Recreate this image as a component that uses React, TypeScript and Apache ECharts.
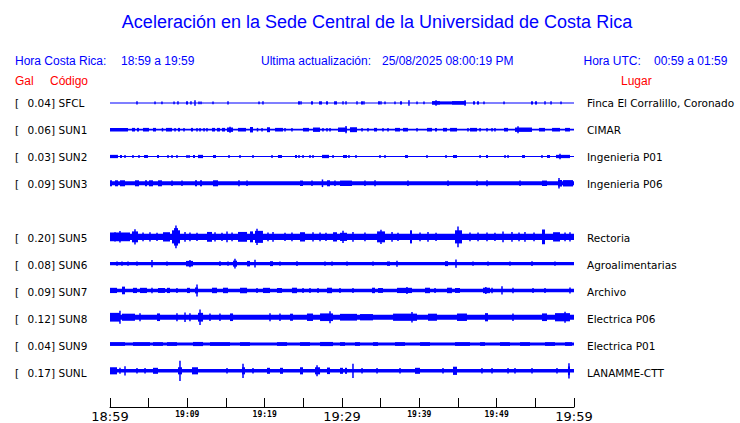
import React, { useEffect, useRef } from "react";
import * as echarts from "echarts";

// ---------- data ----------
const TITLE = "Aceleración en la Sede Central de la Universidad de Costa Rica";
const HORA_CR_LABEL = "Hora Costa Rica:";
const HORA_CR = "18:59 a 19:59";
const UPDATED_LABEL = "Ultima actualización:";
const UPDATED = "25/08/2025 08:00:19 PM";
const HORA_UTC_LABEL = "Hora UTC:";
const HORA_UTC = "00:59 a 01:59";

const STATIONS = ["SFCL", "SUN1", "SUN2", "SUN3", "SUN5", "SUN6", "SUN7", "SUN8", "SUN9", "SUNL"];
const PEAKS_GAL = [0.04, 0.06, 0.03, 0.09, 0.2, 0.08, 0.09, 0.12, 0.04, 0.17];
const PLACES = [
  "Finca El Corralillo, Coronado",
  "CIMAR",
  "Ingenieria P01",
  "Ingenieria P06",
  "Rectoria",
  "Agroalimentarias",
  "Archivo",
  "Electrica P06",
  "Electrica P01",
  "LANAMME-CTT",
];
// trace slot (SUN4 slot left empty)
const SLOTS = [0, 1, 2, 3, 5, 6, 7, 8, 9, 10];

// x axis: minutes after 18:59
const TICK_LABELS = ["18:59", "19:09", "19:19", "19:29", "19:39", "19:49", "19:59"];
const MAJOR_LABELS = ["18:59", "19:29", "19:59"];

// background (noise) half amplitude of each trace, Gal
const BASE_AMP = [0.009, 0.016, 0.009, 0.036, 0.056, 0.031, 0.031, 0.046, 0.027, 0.033];

// bursts: [start minute, end minute, half amplitude Gal]
const SFCL_B = [
  [3.49, 3.49, 0.03], [5.82, 5.82, 0.025], [6.72, 6.72, 0.025], [8.28, 8.28, 0.025], [8.79, 8.79, 0.03],
  [9.83, 10.09, 0.03], [10.47, 10.47, 0.03], [10.99, 10.99, 0.05], [11.51, 11.51, 0.025], [11.77, 11.77, 0.025],
  [13.32, 13.32, 0.025], [15.26, 15.26, 0.03], [19.27, 19.27, 0.025], [19.78, 19.78, 0.03], [24.31, 24.57, 0.03],
  [24.7, 24.7, 0.03], [25.99, 26.25, 0.03], [27.03, 27.41, 0.03], [27.93, 28.19, 0.03], [28.97, 29.35, 0.03],
  [30.13, 30.13, 0.03], [30.52, 30.52, 0.03], [31.94, 31.94, 0.03], [32.46, 32.72, 0.03], [32.84, 32.84, 0.03],
  [34.66, 34.91, 0.03], [35.04, 35.04, 0.03], [35.56, 35.56, 0.025], [36.85, 36.85, 0.025], [37.5, 37.76, 0.03],
  [38.66, 38.66, 0.05], [39.7, 39.7, 0.025], [40.6, 40.6, 0.025], [41.64, 42.67, 0.034], [42.16, 42.16, 0.05],
  [42.67, 44.22, 0.028], [44.22, 46.03, 0.034], [45.91, 45.91, 0.05], [46.94, 47.2, 0.03], [47.46, 47.72, 0.03],
  [48.36, 48.36, 0.025], [50.95, 50.95, 0.025], [54.44, 54.7, 0.03], [54.96, 55.22, 0.03], [56.25, 56.25, 0.03],
  [57.03, 57.03, 0.03], [58.32, 58.32, 0.025],
];
const SUN1_B = [
  [0, 2.33, 0.033], [2.84, 3.23, 0.033], [3.49, 3.75, 0.033], [4.27, 5.04, 0.033], [5.56, 5.95, 0.033],
  [6.72, 6.85, 0.033], [7.24, 8.02, 0.033], [8.41, 8.41, 0.033], [8.79, 9.05, 0.033], [9.57, 9.57, 0.033],
  [10.47, 10.73, 0.033], [11.25, 11.25, 0.033], [11.64, 11.64, 0.033], [12.16, 12.16, 0.033], [12.54, 12.54, 0.033],
  [13.19, 13.58, 0.033], [13.84, 14.22, 0.033], [14.48, 14.87, 0.033], [15.13, 15.91, 0.04], [15.52, 15.52, 0.055],
  [16.55, 17.59, 0.033], [18.1, 18.49, 0.05], [19.01, 19.14, 0.033], [19.66, 19.66, 0.033], [20.3, 20.69, 0.045],
  [21.34, 22.37, 0.033], [22.63, 22.63, 0.033], [23.53, 23.53, 0.033], [24.96, 25.73, 0.033], [26.25, 27.16, 0.04],
  [27.54, 27.54, 0.033], [28.06, 28.06, 0.033], [28.45, 28.45, 0.033], [29.48, 30.65, 0.04], [30.52, 30.52, 0.066],
  [31.03, 31.94, 0.045], [32.59, 32.59, 0.033], [33.36, 33.36, 0.033], [34.14, 34.53, 0.033], [35.3, 35.3, 0.033],
  [35.95, 35.95, 0.033], [36.85, 37.5, 0.033], [37.89, 38.53, 0.033], [39.7, 39.7, 0.033], [40.99, 41.64, 0.033],
  [42.03, 42.28, 0.033], [43.06, 43.58, 0.033], [43.97, 44.87, 0.033], [46.29, 46.29, 0.033], [46.55, 47.46, 0.033],
  [47.85, 47.85, 0.033], [48.75, 48.75, 0.033], [49.4, 49.4, 0.033], [49.78, 49.78, 0.033], [50.95, 51.47, 0.033],
  [52.37, 54.57, 0.04], [52.76, 52.76, 0.065], [55.47, 56.25, 0.033], [57.16, 58.19, 0.033], [58.84, 59.48, 0.033],
];
const SUN2_B = [
  [0, 1.03, 0.03], [1.29, 1.55, 0.027], [1.94, 1.94, 0.027], [2.97, 2.97, 0.027], [3.75, 3.75, 0.027],
  [4.4, 4.91, 0.027], [6.08, 6.34, 0.027], [7.5, 7.5, 0.027], [8.02, 8.02, 0.027], [8.66, 8.66, 0.027],
  [9.96, 9.96, 0.027], [10.22, 10.22, 0.027], [10.73, 10.99, 0.027], [11.38, 12.03, 0.03], [13.32, 13.71, 0.027],
  [15.39, 15.39, 0.027], [16.81, 16.81, 0.027], [18.49, 18.49, 0.027], [20.95, 20.95, 0.027], [21.72, 22.24, 0.027],
  [23.92, 24.18, 0.027], [24.44, 24.44, 0.027], [24.96, 24.96, 0.027], [25.86, 25.86, 0.027], [26.25, 26.25, 0.027],
  [27.41, 28.32, 0.03], [28.84, 28.84, 0.027], [30.13, 30.65, 0.027], [30.9, 30.9, 0.027], [31.81, 31.81, 0.027],
  [34.91, 34.91, 0.027], [35.56, 35.56, 0.027], [38.15, 38.53, 0.027], [40.99, 40.99, 0.027], [43.45, 43.45, 0.027],
  [44.35, 44.87, 0.027], [47.85, 47.85, 0.027], [48.62, 48.88, 0.027], [51.08, 51.08, 0.027], [51.47, 51.47, 0.027],
  [53.28, 53.66, 0.027], [55.86, 55.86, 0.027], [56.51, 56.9, 0.027], [57.67, 59.48, 0.03], [58.19, 58.19, 0.05],
];
const SUN3_B = [
  [0, 0.26, 0.055], [0.65, 1.03, 0.055], [1.29, 1.94, 0.055], [3.23, 3.75, 0.055], [4.53, 4.78, 0.055],
  [5.04, 5.56, 0.055], [6.21, 6.72, 0.055], [8.02, 8.02, 0.05], [9.31, 9.31, 0.05], [10.99, 11.25, 0.055],
  [11.64, 11.9, 0.055], [13.32, 13.97, 0.055], [16.68, 16.68, 0.055], [17.72, 17.72, 0.05], [24.57, 24.96, 0.05],
  [26.12, 26.12, 0.05], [27.41, 27.54, 0.07], [28.06, 28.45, 0.055], [29.09, 29.09, 0.05], [29.74, 31.29, 0.05],
  [32.97, 32.97, 0.05], [34.27, 34.27, 0.055], [38.53, 38.53, 0.05], [43.71, 43.71, 0.05], [47.46, 47.46, 0.05],
  [48.75, 48.75, 0.055], [53.02, 53.02, 0.05], [55.86, 56.51, 0.05], [57.93, 58.45, 0.06], [58.06, 58.06, 0.095],
  [58.58, 59.87, 0.058],
];
const SUN5_B = [
  [0, 2.59, 0.08], [0.65, 0.65, 0.085], [1.29, 1.29, 0.105], [2.84, 3.62, 0.1], [3.23, 3.23, 0.14],
  [4.27, 4.27, 0.08], [5.17, 5.17, 0.085], [6.08, 6.08, 0.075], [6.85, 7.76, 0.085], [8.02, 9.05, 0.12],
  [8.28, 8.79, 0.16], [8.53, 8.53, 0.21], [9.7, 9.7, 0.09], [10.34, 10.34, 0.08], [11.25, 11.25, 0.075],
  [12.54, 13.19, 0.09], [13.58, 13.58, 0.085], [14.48, 14.48, 0.075], [15.13, 15.13, 0.1], [15.78, 15.78, 0.08],
  [16.55, 17.72, 0.09], [18.1, 18.49, 0.1], [18.75, 19.78, 0.11], [19.01, 19.01, 0.15], [20.43, 20.43, 0.08],
  [21.08, 21.08, 0.09], [22.63, 22.63, 0.075], [23.53, 23.53, 0.08], [24.57, 25.22, 0.085], [26.25, 26.25, 0.085],
  [27.16, 27.16, 0.08], [27.93, 27.93, 0.075], [28.84, 29.35, 0.085], [29.74, 30.65, 0.075], [30.13, 30.13, 0.11],
  [31.42, 31.42, 0.09], [32.97, 32.97, 0.08], [34.53, 35.56, 0.1], [35.04, 35.04, 0.13], [36.47, 36.47, 0.09],
  [37.24, 37.24, 0.075], [38.79, 39.05, 0.12], [40.09, 40.09, 0.08], [41.12, 41.12, 0.09], [42.16, 42.16, 0.075],
  [44.61, 45.52, 0.12], [45.0, 45.0, 0.19], [46.55, 46.55, 0.08], [47.59, 47.59, 0.08], [48.75, 48.75, 0.08],
  [49.78, 49.78, 0.075], [50.82, 50.82, 0.1], [51.98, 51.98, 0.09], [52.89, 52.89, 0.08], [53.66, 53.66, 0.09],
  [54.83, 54.83, 0.08], [55.86, 56.25, 0.135], [57.29, 58.19, 0.085], [58.84, 58.84, 0.08], [59.48, 59.48, 0.085],
];
const SUN6_B = [
  [0.91, 0.91, 0.04], [1.55, 1.55, 0.04], [2.33, 2.33, 0.04], [3.49, 3.49, 0.04], [5.43, 5.43, 0.065],
  [7.37, 7.37, 0.04], [9.83, 10.73, 0.05], [10.34, 10.34, 0.065], [14.22, 14.22, 0.045], [15.26, 15.26, 0.04],
  [15.91, 16.42, 0.055], [16.16, 16.16, 0.09], [17.72, 18.1, 0.05], [18.75, 18.75, 0.07], [20.69, 21.08, 0.045],
  [21.98, 21.98, 0.04], [24.18, 24.18, 0.045], [27.8, 27.8, 0.04], [28.71, 28.71, 0.04], [30.65, 30.65, 0.04],
  [34.01, 34.01, 0.04], [35.82, 36.21, 0.04], [37.11, 37.11, 0.055], [43.32, 43.71, 0.045], [44.74, 44.74, 0.075],
  [46.94, 46.94, 0.04], [48.88, 48.88, 0.04], [51.72, 51.72, 0.04], [54.57, 54.57, 0.045], [57.54, 57.54, 0.04],
];
const SUN7_B = [
  [0, 0.91, 0.048], [1.55, 1.94, 0.07], [2.97, 3.49, 0.048], [3.88, 4.78, 0.048], [5.43, 5.43, 0.05],
  [6.21, 7.11, 0.045], [7.37, 7.76, 0.048], [8.66, 8.66, 0.045], [9.96, 10.34, 0.048], [10.99, 11.38, 0.055],
  [11.25, 11.25, 0.11], [13.19, 13.84, 0.05], [14.61, 15.26, 0.05], [16.81, 17.72, 0.05], [19.01, 19.01, 0.045],
  [19.78, 20.69, 0.048], [21.59, 22.24, 0.045], [23.53, 24.18, 0.05], [24.96, 24.96, 0.045], [25.86, 25.86, 0.045],
  [26.9, 26.9, 0.045], [28.06, 28.71, 0.05], [29.74, 29.74, 0.045], [31.42, 31.42, 0.045], [33.88, 34.27, 0.05],
  [34.66, 35.3, 0.045], [37.11, 39.05, 0.048], [38.4, 38.4, 0.065], [40.73, 41.38, 0.05], [42.03, 42.03, 0.045],
  [43.58, 44.22, 0.05], [44.61, 45.26, 0.045], [48.23, 49.14, 0.05], [48.6, 48.6, 0.065], [49.4, 49.4, 0.05],
  [50.69, 50.69, 0.075], [52.11, 52.11, 0.05], [54.7, 54.7, 0.045], [56.25, 56.25, 0.045], [59.48, 59.48, 0.055],
];
const SUN8_B = [
  [0, 1.29, 0.08], [1.29, 1.29, 0.12], [1.55, 3.23, 0.065], [3.88, 3.88, 0.075], [6.08, 6.47, 0.07],
  [8.66, 8.66, 0.075], [9.7, 9.7, 0.085], [10.34, 10.34, 0.075], [11.38, 12.03, 0.08], [11.64, 11.64, 0.14],
  [12.93, 12.93, 0.07], [14.22, 14.22, 0.07], [15.52, 15.91, 0.07], [20.69, 20.69, 0.075], [21.98, 21.98, 0.07],
  [23.28, 23.66, 0.065], [25.47, 26.25, 0.068], [27.16, 28.84, 0.07], [28.45, 28.45, 0.11], [29.74, 31.94, 0.062],
  [32.33, 34.01, 0.058], [36.6, 39.7, 0.066], [39.05, 39.05, 0.095], [41.12, 42.28, 0.065], [44.87, 46.16, 0.068],
  [48.49, 48.88, 0.075], [52.11, 52.11, 0.07], [55.86, 56.51, 0.07], [57.54, 59.48, 0.075], [58.84, 58.84, 0.1],
];
const SUN9_B = [
  [0, 1.94, 0.034], [2.97, 5.17, 0.034], [5.56, 6.85, 0.034], [7.37, 8.66, 0.034], [10.73, 12.03, 0.038],
  [12.93, 15.52, 0.034], [16.81, 18.1, 0.034], [21.59, 22.89, 0.034], [24.57, 25.86, 0.034], [27.16, 28.84, 0.038],
  [29.74, 30.39, 0.034], [31.68, 32.33, 0.034], [34.01, 34.66, 0.034], [36.85, 38.15, 0.034], [40.09, 41.38, 0.034],
  [44.61, 46.55, 0.034], [47.85, 48.49, 0.034], [50.43, 51.72, 0.034], [53.02, 54.31, 0.034], [56.25, 57.54, 0.034],
  [58.84, 59.74, 0.034],
];
const SUNL_B = [
  [0, 0.91, 0.065], [1.29, 1.29, 0.055], [1.94, 1.94, 0.085], [3.49, 3.49, 0.05], [4.53, 4.53, 0.05],
  [5.56, 6.21, 0.055], [8.79, 9.31, 0.065], [9.05, 9.05, 0.185], [10.6, 11.38, 0.065], [15.13, 15.13, 0.05],
  [17.07, 17.46, 0.065], [17.2, 17.2, 0.13], [18.49, 18.49, 0.05], [20.3, 20.69, 0.055], [21.98, 22.37, 0.055],
  [24.57, 24.96, 0.065], [26.51, 27.16, 0.065], [26.77, 26.77, 0.1], [28.06, 28.45, 0.06], [29.74, 30.13, 0.055],
  [30.39, 30.65, 0.055], [31.42, 31.42, 0.13], [32.59, 32.59, 0.05], [34.53, 34.53, 0.05], [37.5, 37.5, 0.05],
  [39.44, 40.09, 0.055], [43.06, 43.06, 0.05], [44.35, 44.87, 0.075], [48.1, 48.1, 0.05], [49.4, 49.4, 0.05],
  [51.47, 51.47, 0.05], [52.37, 52.37, 0.05], [54.57, 54.57, 0.05], [57.8, 57.8, 0.05], [59.22, 59.48, 0.08],
  [59.35, 59.35, 0.14],
];
const BURSTS = [SFCL_B, SUN1_B, SUN2_B, SUN3_B, SUN5_B, SUN6_B, SUN7_B, SUN8_B, SUN9_B, SUNL_B];

// ---------- layout / style ----------
const BLUE = "#0000ff";
const RED = "#ff0000";
const ROW = 0.49; // Gal between trace centres
const Y_MIN = -0.26;
const GRID_TOP = 88.7;
const GRID_H = 320.8;
const PX_PER_GAL = 27 / ROW;
const Y_MAX = Y_MIN + GRID_H / PX_PER_GAL;
const rowPixel = (slot: number) => GRID_TOP + (slot * ROW - Y_MIN) * PX_PER_GAL;

const HEAD_FONT = "'Liberation Sans', Arial, sans-serif";
const LABEL_FONT = "'DejaVu Sans', sans-serif";

export default function App() {
  const ref = useRef<HTMLDivElement>(null);

  useEffect(() => {
    if (!ref.current) return;
    const chart = echarts.init(ref.current, undefined, { renderer: "svg" });

    const data: number[][] = [];
    STATIONS.forEach((_, i) => {
      data.push([0, 60, SLOTS[i], BASE_AMP[i]]);
      BURSTS[i].forEach((b) => data.push([b[0], b[1], SLOTS[i], b[2]]));
    });

    const txt = (x: number, y: number, text: string, o: any = {}) => ({
      type: "text",
      x,
      y,
      silent: true,
      style: {
        text,
        fill: o.fill || "#000",
        font: o.font || `11px ${LABEL_FONT}`,
        textAlign: o.align || "left",
        textVerticalAlign: "middle",
      },
    });

    const graphics: any[] = [
      txt(377, 22, TITLE, { fill: BLUE, font: `18px ${HEAD_FONT}`, align: "center" }),
      txt(15, 61, HORA_CR_LABEL, { fill: BLUE, font: `12px ${HEAD_FONT}` }),
      txt(121, 61, HORA_CR, { fill: BLUE, font: `12px ${HEAD_FONT}` }),
      txt(261, 61, UPDATED_LABEL, { fill: BLUE, font: `12px ${HEAD_FONT}` }),
      txt(382, 61, UPDATED, { fill: BLUE, font: `12px ${HEAD_FONT}` }),
      txt(583.5, 61, HORA_UTC_LABEL, { fill: BLUE, font: `12px ${HEAD_FONT}` }),
      txt(654, 61, HORA_UTC, { fill: BLUE, font: `12px ${HEAD_FONT}` }),
      txt(15, 81, "Gal", { fill: RED, font: `12px ${HEAD_FONT}` }),
      txt(50, 81, "Código", { fill: RED, font: `12px ${HEAD_FONT}` }),
      txt(621, 81, "Lugar", { fill: RED, font: `12px ${HEAD_FONT}` }),
    ];
    STATIONS.forEach((s, i) => {
      const y = rowPixel(SLOTS[i]);
      const f = `10.5px ${LABEL_FONT}`;
      graphics.push(txt(15, y, "[", { font: f }));
      graphics.push(txt(55, y, `${PEAKS_GAL[i].toFixed(2)}]`, { font: f, align: "right" }));
      graphics.push(txt(58.5, y, s, { font: f }));
      graphics.push(txt(587, y, PLACES[i], { font: f }));
    });

    chart.setOption({
      animation: false,
      backgroundColor: "#ffffff",
      grid: { left: 110, width: 464, top: GRID_TOP, height: GRID_H },
      xAxis: {
        type: "value",
        min: 0,
        max: 60,
        interval: 5,
        position: "bottom",
        splitLine: { show: false },
        axisLine: { show: true, onZero: false, lineStyle: { color: "#000", width: 1 } },
        axisTick: { show: true, inside: true, length: 9, lineStyle: { color: "#000", width: 1 } },
        axisLabel: {
          margin: 2,
          showMinLabel: true,
          showMaxLabel: true,
          formatter: (v: number) => {
            if (v % 10 !== 0) return "";
            const lab = TICK_LABELS[v / 10];
            return MAJOR_LABELS.includes(lab) ? `{big|${lab}}` : `{small|${lab}}`;
          },
          rich: {
            big: { fontSize: 13, fontFamily: LABEL_FONT, color: "#000", lineHeight: 15 },
            small: { fontSize: 8, fontFamily: "'DejaVu Sans Mono', monospace", fontWeight: "bold", color: "#000", lineHeight: 8, padding: [2, 0, 0, 0] },
          },
        },
      },
      yAxis: {
        type: "value",
        inverse: true,
        min: Y_MIN,
        max: Y_MAX,
        show: false,
        splitLine: { show: false },
      },
      series: [
        {
          type: "custom",
          data,
          encode: { x: [0, 1], y: 2 },
          renderItem: (_p: any, api: any) => {
            const t0 = api.value(0);
            const t1 = api.value(1);
            const c = api.value(2) * ROW;
            const amp = api.value(3);
            const p0 = api.coord([t0, c]);
            const p1 = api.coord([t1, c]);
            const h = Math.abs(api.size([0, amp])[1]);
            let x = p0[0];
            let w = p1[0] - p0[0];
            if (w < 1.5) {
              x = (p0[0] + p1[0]) / 2 - 0.75;
              w = 1.5;
            }
            const hh = Math.max(h, 0.5);
            return {
              type: "rect",
              shape: { x, y: p0[1] - hh, width: w, height: 2 * hh },
              style: { fill: BLUE },
            };
          },
        },
      ],
      graphic: graphics,
    });

    return () => chart.dispose();
  }, []);

  return (
    <div
      ref={ref}
      style={{ position: "fixed", left: 0, top: 0, width: 740, height: 423, background: "#fff" }}
    />
  );
}
